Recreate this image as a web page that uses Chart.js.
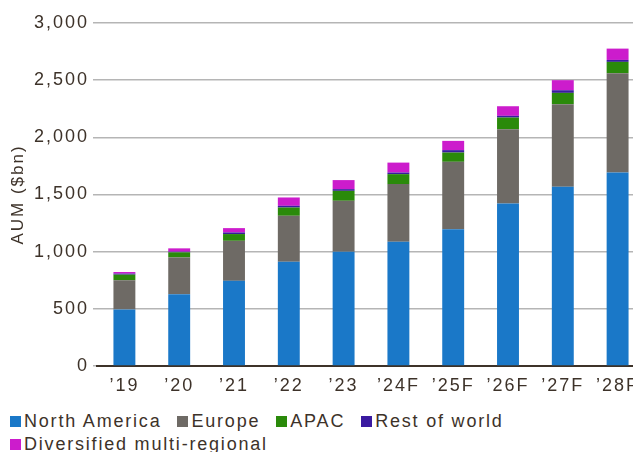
<!DOCTYPE html>
<html>
<head>
<meta charset="utf-8">
<script src="https://cdn.jsdelivr.net/npm/chart.js@4/dist/chart.umd.min.js"></script>
<style>
  html, body { margin: 0; padding: 0; background: #ffffff; overflow: hidden; }
  #wrap { position: relative; width: 633px; height: 452px; overflow: hidden; }
  #c { position: absolute; left: 0; top: 0; }
  #legend {
    position: absolute; left: 10px; top: 410px; width: 620px;
    display: flex; flex-wrap: wrap;
    font-family: 'Liberation Sans', Arial, sans-serif; font-size: 18px;
    letter-spacing: 1.8px; color: #3d3229; line-height: 23px;
  }
  .item { display: flex; align-items: center; margin-right: 16px; white-space: nowrap; }
  .box { width: 11px; height: 11px; margin-right: 3px; flex: none; }
</style>
</head>
<body>
<div id="wrap">
  <canvas id="c" width="646" height="400"></canvas>
  <div id="legend"></div>
</div>
<script>
const categories = ["\u201919", "\u201920", "\u201921", "\u201922", "\u201923", "\u201924F", "\u201925F", "\u201926F", "\u201927F", "\u201928F"];
const northAmerica = [495, 628, 745, 912, 1000, 1086, 1197, 1421, 1567, 1692];
const europe       = [255, 322, 350, 402, 445, 505, 589, 650, 723, 869];
const apac         = [49, 44, 59, 72, 87, 87, 81, 102, 99, 99];
const restOfWorld  = [9, 6, 14, 15, 15, 14, 21, 15, 23, 17];
const diversified  = [14, 29, 38, 73, 79, 87, 81, 84, 88, 99];
const yTicks = [0, 500, 1000, 1500, 2000, 2500, 3000];
const yTitle = "AUM ($bn)";

const textColor = "#3d3229";
const fontFamily = "'Liberation Sans', Arial, sans-serif";

function ds(label, data, color) {
  return {
    label: label,
    data: data,
    backgroundColor: color,
    borderWidth: 0,
    categoryPercentage: 0.8,
    barPercentage: 0.5
  };
}

const spacingPlugin = {
  id: "letterSpacing",
  beforeUpdate(chart) { chart.ctx.letterSpacing = "2px"; },
  beforeLayout(chart) { chart.ctx.letterSpacing = "2px"; },
  beforeDraw(chart) { chart.ctx.letterSpacing = "2px"; }
};

const chart = new Chart(document.getElementById("c"), {
  type: "bar",
  plugins: [spacingPlugin],
  data: {
    labels: categories,
    datasets: [
      ds("North America", northAmerica, "#1a78c8"),
      ds("Europe", europe, "#6e6a65"),
      ds("APAC", apac, "#2a8a0a"),
      ds("Rest of world", restOfWorld, "#3a1aa0"),
      ds("Diversified multi-regional", diversified, "#cc1ccc")
    ]
  },
  options: {
    responsive: false,
    animation: false,
    layout: { padding: { top: 23, right: 1, left: 0, bottom: 3 } },
    plugins: {
      tooltip: { enabled: false },
      legend: { display: false }
    },
    scales: {
      x: {
        stacked: true,
        grid: { display: false, drawTicks: true, tickLength: 8 },
        border: { display: true, color: "#3d3229", width: 2 },
        ticks: { color: textColor, font: { family: fontFamily, size: 18 }, padding: 1, maxRotation: 0, autoSkip: false },
        afterFit: (s) => { s.height = 31; }
      },
      y: {
        stacked: true,
        min: 0,
        max: 3000,
        afterBuildTicks: (axis) => { axis.ticks = yTicks.map(v => ({ value: v })); },
        afterFit: (s) => { s.width = 97; },
        grid: { color: "#b5b5b5", lineWidth: 1.5, tickLength: 4 },
        border: { display: false },
        ticks: { color: textColor, font: { family: fontFamily, size: 18 }, padding: 4 },
        title: { display: true, text: yTitle, color: textColor, font: { family: fontFamily, size: 17 }, padding: { top: 8, bottom: 0 } }
      }
    }
  }
});

// HTML legend built from the chart's datasets
const legendEl = document.getElementById("legend");
chart.data.datasets.forEach(d => {
  const item = document.createElement("div");
  item.className = "item";
  const box = document.createElement("span");
  box.className = "box";
  box.style.background = d.backgroundColor;
  const txt = document.createElement("span");
  txt.textContent = d.label;
  item.appendChild(box);
  item.appendChild(txt);
  legendEl.appendChild(item);
});
</script>
</body>
</html>
